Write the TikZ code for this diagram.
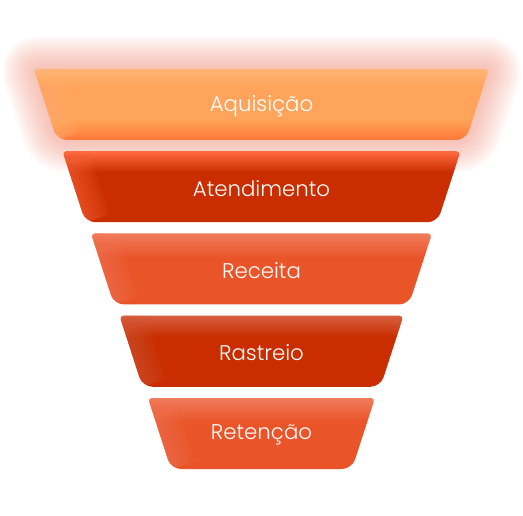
\documentclass[tikz,border=0pt]{standalone}
\usepackage{fontspec}
\newfontfamily\stagefont{Poppins Light}
\usetikzlibrary{calc}

\definecolor{acqtop}{HTML}{FFB575}
\definecolor{acqmid}{HTML}{FFA45A}
\definecolor{acqbot}{HTML}{FF7838}
\definecolor{glowred}{HTML}{EE8A75}
\definecolor{darktop}{HTML}{FF6B3F}
\definecolor{darkred}{HTML}{C92D00}
\definecolor{darkbtop}{HTML}{D65E3E}
\definecolor{midtop}{HTML}{F07B5B}
\definecolor{midred}{HTML}{EA5429}

% vertical shadings: 25bp = bottom of the path, 75bp = top
\pgfdeclareverticalshading{acqshade}{100bp}{color(0bp)=(acqbot); color(25bp)=(acqbot); color(40bp)=(acqmid); color(62bp)=(acqmid); color(75bp)=(acqtop); color(100bp)=(acqtop)}
\pgfdeclareverticalshading{darkshade}{100bp}{color(0bp)=(darkred); color(25bp)=(darkred); color(60bp)=(darkred); color(75bp)=(darktop); color(100bp)=(darktop)}
\pgfdeclareverticalshading{darkbshade}{100bp}{color(0bp)=(darkred); color(25bp)=(darkred); color(60bp)=(darkred); color(75bp)=(darkbtop); color(100bp)=(darkbtop)}
\pgfdeclareverticalshading{midshade}{100bp}{color(0bp)=(midred); color(25bp)=(midred); color(58bp)=(midred); color(75bp)=(midtop); color(100bp)=(midtop)}

\tikzset{
  stagelabel/.style={text=white, font=\stagefont\fontsize{21.3}{24}\selectfont, inner sep=0pt},
}

% outline of one stage, starting at the middle of its top edge
\newcommand\stagepath[1]{(#1-t) [rounded corners=4pt] -- (#1-tr) -- (#1-r) [rounded corners=10pt] -- (#1-br) -- (#1-bl) -- (#1-l) [rounded corners=4pt] -- (#1-tl) -- cycle}

% #1 name, #2 top y, #3 half width at the top, #4 shading, #5 edge colour, #6 label
\newcommand\funnelstage[6]{
  \coordinate (#1-t) at (261.5, #2);
  \coordinate (#1-tl) at (261.5-#3, #2);
  \coordinate (#1-tr) at (261.5+#3, #2);
  \coordinate (#1-bl) at (261.5-#3+23, #2+71);
  \coordinate (#1-br) at (261.5+#3-23, #2+71);
  \coordinate (#1-l) at ($(#1-tl)!0.5!(#1-bl)$);
  \coordinate (#1-r) at ($(#1-tr)!0.5!(#1-br)$);
  \shade[shading=#4] \stagepath{#1};
  \begin{scope}
    \clip \stagepath{#1};
    \foreach \w in {52,48,...,4}
      \draw[#5, opacity=0.06, line width=\w pt] (#1-tl) -- (#1-bl);
  \end{scope}
  \node[stagelabel] (#1) at (261.5, #2+37) {#6};
}

\begin{document}
\begin{tikzpicture}[x=1pt, y=-1pt]
  \useasboundingbox (0,0) rectangle (523,516);

  % glow behind the first stage
  \coordinate (acq-t) at (261.5, 69);
  \coordinate (acq-tl) at (34, 69);
  \coordinate (acq-tr) at (489, 69);
  \coordinate (acq-bl) at (57, 140);
  \coordinate (acq-br) at (466, 140);
  \coordinate (acq-l) at ($(acq-tl)!0.5!(acq-bl)$);
  \coordinate (acq-r) at ($(acq-tr)!0.5!(acq-br)$);
  \foreach \w in {66,63,...,3}
    \draw[glowred, opacity=0.03, line width=\w pt, line join=round] \stagepath{acq};

  \funnelstage{acq}{69}{227.5}{acqshade}{acqtop}{Aquisição}
  \funnelstage{atend}{151.25}{199}{darkshade}{darktop}{Atendimento}
  \funnelstage{rec}{233.5}{170.5}{midshade}{midtop}{Receita}
  \funnelstage{rast}{315.75}{142}{darkbshade}{darkbtop}{Rastreio}
  \funnelstage{ret}{398}{113.5}{midshade}{midtop}{Retenção}
\end{tikzpicture}
\end{document}
